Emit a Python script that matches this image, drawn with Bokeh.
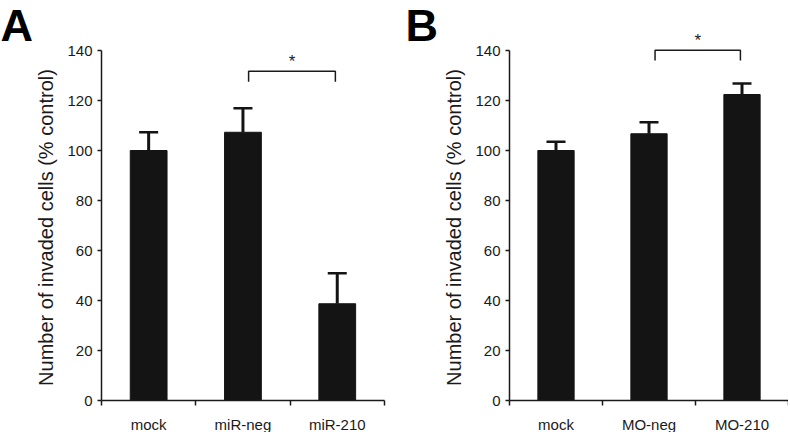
import numpy as np
from bokeh.plotting import figure
from bokeh.layouts import row
from bokeh.models import Range1d, FixedTicker, Whisker, TeeHead, ColumnDataSource, Label
from bokeh.core.properties import value
from bokeh.embed import file_html
from bokeh.resources import INLINE

# ---- data ----
cats_a = ["mock", "miR-neg", "miR-210"]
vals_a = [100.0, 107.3, 38.7]
errs_a = [7.3, 9.6, 12.2]

cats_b = ["mock", "MO-neg", "MO-210"]
vals_b = [100.0, 106.7, 122.4]
errs_b = [3.5, 4.6, 4.4]

y_ticks = [0, 20, 40, 60, 80, 100, 120, 140]
y_label = "Number of invaded cells (% control)"

# significance brackets: (x left, x right, y bottom, y top, star baseline y)
sig_a = [1.56, 2.48, 127.5, 131.7, 135.5]
sig_b = [1.565, 2.483, 136.0, 140.1, 144.0]

FONT = "Liberation Sans"
INK = "#141414"
AX = "#1a1a1a"
H = 432          # figure height in px
Y0_PX = 400      # pixel row (from top) of y = 0
PX_PER_Y = 2.5


def panel(cats, vals, errs, sig, letter, width, axis_px, px_per_x, letter_px):
    n = len(cats)
    pos = np.arange(n) + 0.5
    x_start = -axis_px / px_per_x
    x_end = (width - axis_px) / px_per_x
    y_start = -(H - Y0_PX) / PX_PER_Y
    y_end = Y0_PX / PX_PER_Y
    p = figure(frame_width=width, frame_height=H,
               x_range=Range1d(x_start, x_end), y_range=Range1d(y_start, y_end),
               output_backend="svg", toolbar_location=None,
               min_border=0, min_border_left=0, min_border_right=0,
               min_border_top=0, min_border_bottom=0)
    p.outline_line_color = None
    p.grid.visible = False
    p.background_fill_color = "white"

    src = ColumnDataSource(dict(x=pos, top=vals, upper=np.array(vals) + np.array(errs)))
    p.vbar(x="x", top="top", width=0.39, source=src, fill_color=INK, line_color=INK)
    w = Whisker(base="x", lower="top", upper="upper", source=src, line_width=3, line_color=INK,
                upper_head=TeeHead(size=19, line_width=2.5, line_color=INK), lower_head=None,
                level="glyph")
    p.add_layout(w)

    # bracket + star
    xl, xr, yb, yt, ys = sig
    p.line(x=[xl, xl, xr, xr], y=[yb, yt, yt, yb], line_color=AX, line_width=1.5)
    p.text(x=[(xl + xr) / 2], y=[ys], text=["*"], text_font=value(FONT),
           text_font_size="17px", text_align="center", text_baseline="alphabetic",
           text_color=AX)

    # y axis (drawn at x = 0 inside the frame)
    ya = p.yaxis[0]
    ya.fixed_location = 0
    ya.ticker = FixedTicker(ticks=y_ticks)
    ya.bounds = (0, 140)
    ya.major_tick_out = 4
    ya.major_tick_in = 0
    ya.minor_tick_out = 0
    ya.minor_tick_in = 0
    ya.axis_line_width = 1.5
    ya.axis_line_color = AX
    ya.major_tick_line_width = 1.5
    ya.major_tick_line_color = AX
    ya.major_label_standoff = 5
    ya.major_label_text_font = FONT
    ya.major_label_text_font_size = "15px"
    ya.major_label_text_color = "#1a1a1a"

    # x axis (drawn at y = 0): labels at centres, tick marks at category boundaries
    xa = p.xaxis[0]
    xa.fixed_location = 0
    xa.ticker = FixedTicker(ticks=list(pos), minor_ticks=list(np.arange(n + 1)))
    xa.major_label_overrides = {float(v): c for v, c in zip(pos, cats)}
    xa.bounds = (0, n)
    xa.major_tick_out = 0
    xa.major_tick_in = 0
    xa.minor_tick_out = 5
    xa.minor_tick_in = 0
    xa.minor_tick_line_width = 1.5
    xa.minor_tick_line_color = AX
    xa.axis_line_width = 1.5
    xa.axis_line_color = AX
    xa.major_label_standoff = 10
    xa.major_label_text_font = FONT
    xa.major_label_text_font_size = "15px"
    xa.major_label_text_color = "#1a1a1a"

    # y title, centred on the 0-140 axis line (screen units from frame bottom-left)
    ylab = Label(x=axis_px - 56, y=(H - Y0_PX) + 70 * PX_PER_Y - 2, x_units="screen", y_units="screen",
                 text=y_label, angle=np.pi / 2, text_font=FONT, text_font_size="20px",
                 text_align="center", text_baseline="middle", text_color="#1a1a1a")
    p.add_layout(ylab)

    # panel letter
    lab = Label(x=letter_px, y=H - 25, x_units="screen", y_units="screen",
                text=letter, text_font=FONT, text_font_size="45px", text_font_style="bold",
                text_baseline="alphabetic", text_align="left", text_color="#000000")
    p.add_layout(lab)
    return p


pa = panel(cats_a, vals_a, errs_a, sig_a, "A", 401, 101, 94.3, 0)
pb = panel(cats_b, vals_b, errs_b, sig_b, "B", 387, 108, 93.0, 4)

layout = row(pa, pb)
open("out.html", "w").write(file_html(layout, INLINE))
